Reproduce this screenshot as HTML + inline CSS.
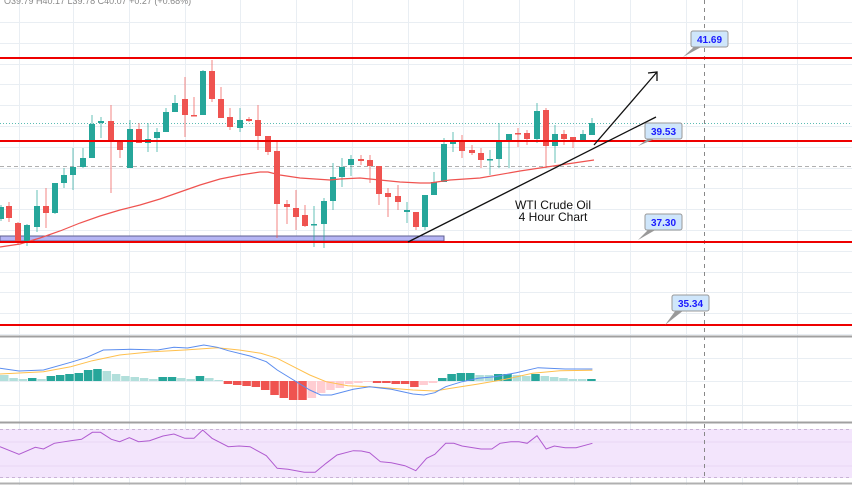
<!DOCTYPE html>
<html><head><meta charset="utf-8"><style>
html,body{margin:0;padding:0;background:#fff;}
svg{display:block;font-family:"Liberation Sans",sans-serif;}
</style></head><body>
<svg id="s" width="852" height="485" viewBox="0 0 852 485" xmlns="http://www.w3.org/2000/svg">
<rect width="852" height="485" fill="#fff"/>
<g id="grid" stroke="#e9eef3" stroke-width="1"></g>
<rect x="0" y="429" width="852" height="49" fill="#f3e5fc"/>
<line x1="0" y1="429.5" x2="852" y2="429.5" stroke="#c9b3d6" stroke-dasharray="3,3"/>
<line x1="0" y1="477.5" x2="852" y2="477.5" stroke="#c9b3d6" stroke-dasharray="3,3"/>
<line x1="0" y1="442" x2="852" y2="442" stroke="#e8d8f3"/>
<line x1="0" y1="466" x2="852" y2="466" stroke="#e8d8f3"/>
<line x1="0" y1="123.5" x2="852" y2="123.5" stroke="#26a69a" stroke-dasharray="1,2" stroke-width="0.8"/>
<line x1="0" y1="166.5" x2="852" y2="166.5" stroke="#b0b0b0" stroke-dasharray="4,3"/>
<line x1="704.5" y1="0" x2="704.5" y2="485" stroke="#888" stroke-dasharray="4,4"/>
<line x1="0" y1="336.5" x2="852" y2="336.5" stroke="#a0a0a0" stroke-width="2"/>
<line x1="0" y1="422.5" x2="852" y2="422.5" stroke="#a0a0a0" stroke-width="2"/>
<line x1="0" y1="483.5" x2="852" y2="483.5" stroke="#b0b0b0" stroke-width="2"/>
<rect x="0" y="236" width="444" height="5" fill="#b5b5f4" stroke="#5f5f90" stroke-width="1"/>
<g id="cand"></g>
<polyline id="ma" fill="none" stroke="#ef5350" stroke-width="1.2"/>
<g stroke="#e00" stroke-width="2">
<line x1="0" y1="58" x2="852" y2="58"/><line x1="0" y1="141" x2="852" y2="141"/>
<line x1="0" y1="242" x2="852" y2="242"/><line x1="0" y1="325" x2="852" y2="325"/>
</g>
<g stroke="#111" stroke-width="1.3" fill="none">
<line x1="408" y1="242" x2="656" y2="117"/>
<line x1="594" y1="145" x2="657" y2="72"/>
<polyline points="648,73 657,72 657,81"/>
</g>
<text x="553" y="209" font-size="12" text-anchor="middle" fill="#111">WTI Crude Oil</text>
<text x="553" y="221" font-size="12" text-anchor="middle" fill="#111">4 Hour Chart</text>
<g id="lbl" font-size="10" font-weight="bold" fill="#1a1aff"></g>
<g id="hist"></g>
<polyline id="sig" fill="none" stroke="#ffc04d" stroke-width="1"/>
<polyline id="macd" fill="none" stroke="#5b8def" stroke-width="1"/>
<polyline id="rsi" fill="none" stroke="#b05bd0" stroke-width="1"/>
<text x="4" y="4" font-size="9" fill="#888">O39.79 H40.17 L39.78 C40.07 +0.27 (+0.68%)</text>
</svg>
<script>
var NS="http://www.w3.org/2000/svg";
function el(p,t,a){var e=document.createElementNS(NS,t);for(var k in a)e.setAttribute(k,a[k]);p.appendChild(e);return e;}
var g=document.getElementById('grid');
[19,73,129,185,240,296,352,408,463,519,574,630,686,742,797].forEach(function(x){el(g,'line',{x1:x+.5,y1:0,x2:x+.5,y2:485});});
for(var y=22;y<336;y+=20.8)el(g,'line',{x1:0,y1:Math.round(y)+.5,x2:852,y2:Math.round(y)+.5});
[358,381,405].forEach(function(y){el(g,'line',{x1:0,y1:y+.5,x2:852,y2:y+.5});});
// candles: x, bodyTop, bodyBot, wickTop, wickBot, green?
var C=[[1,207,219,205,221,1],[9,206,218,202,222,0],[18,223,242,222,245,0],[27,225,241,224,246,1],[37,206,227,190,232,1],[46,206,213,188,228,0],[55,183,213,183,214,1],[64,175,183,168,188,1],[73,167,175,148,190,1],[83,158,167,148,168,1],[92,124,158,115,158,1],[101,121,123,117,138,1],[111,121,142,105,193,0],[120,142,150,142,158,0],[130,129,168,120,168,1],[139,129,143,123,143,0],[148,139,143,123,152,1],[157,132,138,128,152,1],[166,112,132,108,132,1],[175,103,112,95,112,1],[185,99,115,77,137,0],[194,115,116,97,115,0],[203,71,115,70,115,1],[212,71,99,60,102,0],[221,99,118,87,118,0],[230,117,127,108,130,0],[240,120,128,108,132,1],[249,119,121,117,122,0],[258,120,136,105,150,0],[268,136,152,136,155,0],[277,151,204,140,238,0],[287,204,207,200,224,0],[296,208,217,190,230,0],[305,215,226,205,227,0],[314,224,225,206,247,1],[324,201,224,198,248,1],[333,177,201,163,210,1],[342,167,177,158,187,1],[351,159,165,155,176,1],[361,159,161,155,165,0],[370,160,166,155,183,0],[379,166,194,166,205,0],[388,193,197,188,217,0],[398,196,202,185,210,0],[407,210,212,202,223,1],[416,212,227,212,230,0],[425,195,227,195,230,1],[434,182,195,172,195,1],[444,144,182,138,182,1],[453,142,144,132,152,1],[462,142,151,135,158,0],[472,150,153,145,155,0],[481,153,160,148,168,0],[490,159,160,150,175,1],[499,141,159,123,168,1],[509,134,141,134,168,1],[518,133,134,128,147,0],[527,133,139,130,145,0],[537,111,139,103,143,1],[546,110,146,108,168,0],[555,134,146,125,163,1],[564,134,139,130,145,0],[573,137,140,137,148,0],[583,134,140,130,140,1],[592,123,135,118,135,1]];
var cg=document.getElementById('cand');
C.forEach(function(c){var col=c[5]?'#26a69a':'#ef5350';
el(cg,'line',{x1:c[0],y1:c[3],x2:c[0],y2:c[4],stroke:col,'stroke-width':1,opacity:0.7});
el(cg,'rect',{x:c[0]-3,y:c[1],width:6,height:Math.max(1.5,c[2]-c[1]),fill:col});});
document.getElementById('ma').setAttribute('points',"0,247 20,244 40,238 60,231 80,223 100,216 120,210 140,205 160,199 180,192 200,185 220,179 240,175 260,172 268,172 280,175 300,178 330,180 340,179 360,178 380,180 400,182 420,183 430,183 450,180 480,178 520,171 560,165 594,160");
var L=document.getElementById('lbl');
[[691,31,683,57,'41.69'],[645,123,638,146,'39.53'],[645,214,638,240,'37.30'],[672,295,665,325,'35.34']].forEach(function(b){
el(L,'polygon',{points:(b[0]+4)+','+(b[1]+15)+' '+b[2]+','+b[3]+' '+(b[0]+12)+','+(b[1]+15),fill:'#999'});
el(L,'rect',{x:b[0],y:b[1],width:37,height:16,rx:2,fill:'#cfe6fb',stroke:'#999'});
var t=el(L,'text',{x:b[0]+18.5,y:b[1]+12,'text-anchor':'middle'});t.textContent=b[4];});
// histogram
var H=[[6,'l'],[3,'l'],[2,'l'],[3,'d'],[2,'l'],[5,'d'],[6,'d'],[7,'d'],[8,'d'],[11,'d'],[12,'d'],[10,'l'],[7,'l'],[5,'l'],[4,'l'],[3,'l'],[2,'l'],[4,'d'],[4,'d'],[3,'l'],[2,'l'],[5,'d'],[3,'l'],[1,'l'],[-3,'r'],[-4,'r'],[-5,'r'],[-6,'r'],[-9,'r'],[-14,'r'],[-17,'r'],[-19,'r'],[-19,'r'],[-17,'p'],[-12,'p'],[-9,'p'],[-7,'p'],[-3,'p'],[-2,'p'],[-1,'p'],[-2,'r'],[-2,'r'],[-3,'r'],[-3,'r'],[-6,'r'],[-4,'p'],[-2,'p'],[3,'d'],[7,'d'],[8,'d'],[8,'d'],[6,'l'],[6,'l'],[7,'d'],[7,'d'],[6,'l'],[5,'l'],[7,'d'],[5,'l'],[4,'l'],[3,'l'],[2,'l'],[2,'l'],[2,'d']];
var col={l:'#b2dfdb',d:'#26a69a',r:'#ef5350',p:'#ffcdd2'};
var hg=document.getElementById('hist');var bw=9.32;
H.forEach(function(h,i){var v=h[0];el(hg,'rect',{x:i*bw,y:v>0?381-v:381,width:bw-0.8,height:Math.abs(v),fill:col[h[1]]});});
function pts(a){var s=[];for(var i=0;i<a.length;i+=2)s.push((a[i]/1.84).toFixed(1)+','+(330+a[i+1]/3).toFixed(1));return s.join(' ');}
document.getElementById('macd').setAttribute('points',pts([0,115,35,123,80,120,130,97,160,82,190,60,240,58,290,60,320,52,345,54,375,45,400,52,420,62,460,78,490,95,510,120,540,150,570,180,590,195,610,195,650,178,680,170,720,178,760,192,780,195,800,188,820,170,850,155,880,145,910,140,950,128,990,113,1040,117,1090,117]));
document.getElementById('sig').setAttribute('points',pts([0,132,80,125,130,110,170,92,220,75,280,65,340,60,400,53,440,60,480,70,510,85,540,110,570,135,600,155,640,167,680,170,720,175,760,180,800,183,830,175,880,162,930,148,980,130,1030,122,1090,121]));
document.getElementById('rsi').setAttribute('points',pts([0,350,35,373,65,352,80,357,100,340,130,332,150,328,170,307,185,307,205,328,220,335,238,323,255,335,275,332,300,318,320,312,340,325,357,325,373,300,390,325,420,350,440,348,460,350,490,377,510,415,530,418,560,427,580,427,600,400,620,375,650,362,665,363,680,368,700,395,720,398,745,407,765,422,785,385,800,373,820,340,835,340,850,348,885,357,905,357,920,340,940,335,955,335,970,340,988,317,1005,357,1020,348,1040,353,1060,353,1090,340]));
</script>
</body></html>
